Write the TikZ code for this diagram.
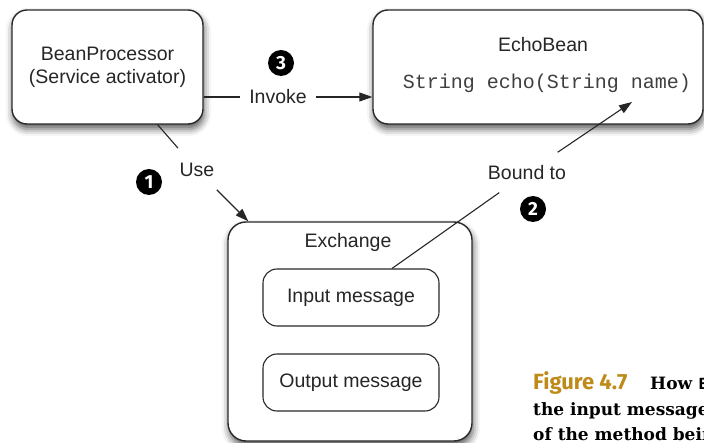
\documentclass[tikz,border=0pt]{standalone}
\usepackage{fontspec}
\setmainfont{Liberation Sans}
\setmonofont{Liberation Mono}
\newfontfamily\figfont{Fira Sans}
\newfontfamily\capfont{DejaVu Serif}
\usetikzlibrary{arrows.meta,shadows.blur}
\definecolor{figgold}{RGB}{190,138,25}
\definecolor{boxline}{RGB}{40,40,40}
\tikzset{
  bigbox/.style={draw=boxline, line width=1.4pt, fill=white, rounded corners=15pt,
    inner sep=0pt,
    blur shadow={shadow xshift=1pt, shadow yshift=-5pt, shadow blur radius=7pt, shadow opacity=65}},
  msgbox/.style={draw=boxline, line width=1.1pt, fill=white, rounded corners=14pt,
    minimum width=176pt, minimum height=57pt, inner sep=0pt},
  lbl/.style={font=\fontsize{19.5}{23}\selectfont, text=black!85, inner sep=0pt},
  code/.style={font=\ttfamily\fontsize{20}{23}\selectfont, text=black!75, inner sep=0pt},
  marker/.style={circle, fill=black, text=white, minimum size=26pt, inner sep=0pt,
    font=\figfont\bfseries\fontsize{19}{19}\selectfont},
  conn/.style={line width=1.1pt, draw=black!85},
  arr/.style={conn, -{Triangle[length=13pt,width=9pt]}},
  capt/.style={anchor=base west, inner sep=0pt}
}
\begin{document}
\begin{tikzpicture}[x=1pt,y=-1pt]
\useasboundingbox (0,0) rectangle (704,443);
\begin{scope}
\clip (0,0) rectangle (704,443);
% boxes
\node[bigbox, minimum width=191pt, minimum height=114pt, align=center,
      font=\fontsize{19.5}{23}\selectfont, text=black!85] (bp) at (107.5,67)
      {BeanProcessor\\(Service activator)};
\node[bigbox, minimum width=330pt, minimum height=114pt] (eb) at (538,67) {};
\node[lbl] (ebtitle) at (543,45) {EchoBean};
\node[code] (ebcode) at (547,83) {String echo(String name)};
\node[bigbox, rounded corners=18pt, minimum width=244pt, minimum height=219pt] (ex) at (350,331.5) {};
\node[lbl] (exlabel) at (348,242) {Exchange};
\node[msgbox, lbl] (in) at (351,297.5) {Input message};
\node[msgbox, lbl] (out) at (351,382.5) {Output message};
% labels
\node[lbl] (inv) at (278,97) {Invoke};
\node[lbl] (use) at (197,170) {Use};
\node[lbl] (bound) at (527,173) {Bound to};
% markers
\node[marker] (m3) at (281,63) {3};
\node[marker] (m1) at (149,182) {1};
\node[marker] (m2) at (533,209) {2};
% connectors
\draw[conn] (inv.west -| bp.east) -- ([xshift=-9pt]inv.west);
\draw[arr] ([xshift=9pt]inv.east) -- (inv.east -| eb.west);
\draw[conn, shorten >=29pt] (bp) -- (use.center);
\path (ex.north west) ++(21,0) coordinate (exin);
\draw[arr, shorten <=28pt] (use.center) -- (exin);
\coordinate (nameparam) at (632,102);
\draw[arr, shorten <=37pt] (bound.center) -- (nameparam);
\draw[conn, shorten >=34pt] (in) -- (bound.center);
% caption
\node[capt, font=\figfont\bfseries\fontsize{22}{22}\selectfont, text=figgold] (fig) at (533,390) {Figure 4.7};
\node[capt, font=\capfont\bfseries\fontsize{17}{17}\selectfont] (cap1) at (650,390) {How \texttt{Be}};
\node[capt, font=\capfont\bfseries\fontsize{17}{17}\selectfont] (cap2) at (533,415) {the input message};
\node[capt, font=\capfont\bfseries\fontsize{17}{17}\selectfont] (cap3) at (533,440) {of the method bein};
\end{scope}
\end{tikzpicture}
\end{document}
